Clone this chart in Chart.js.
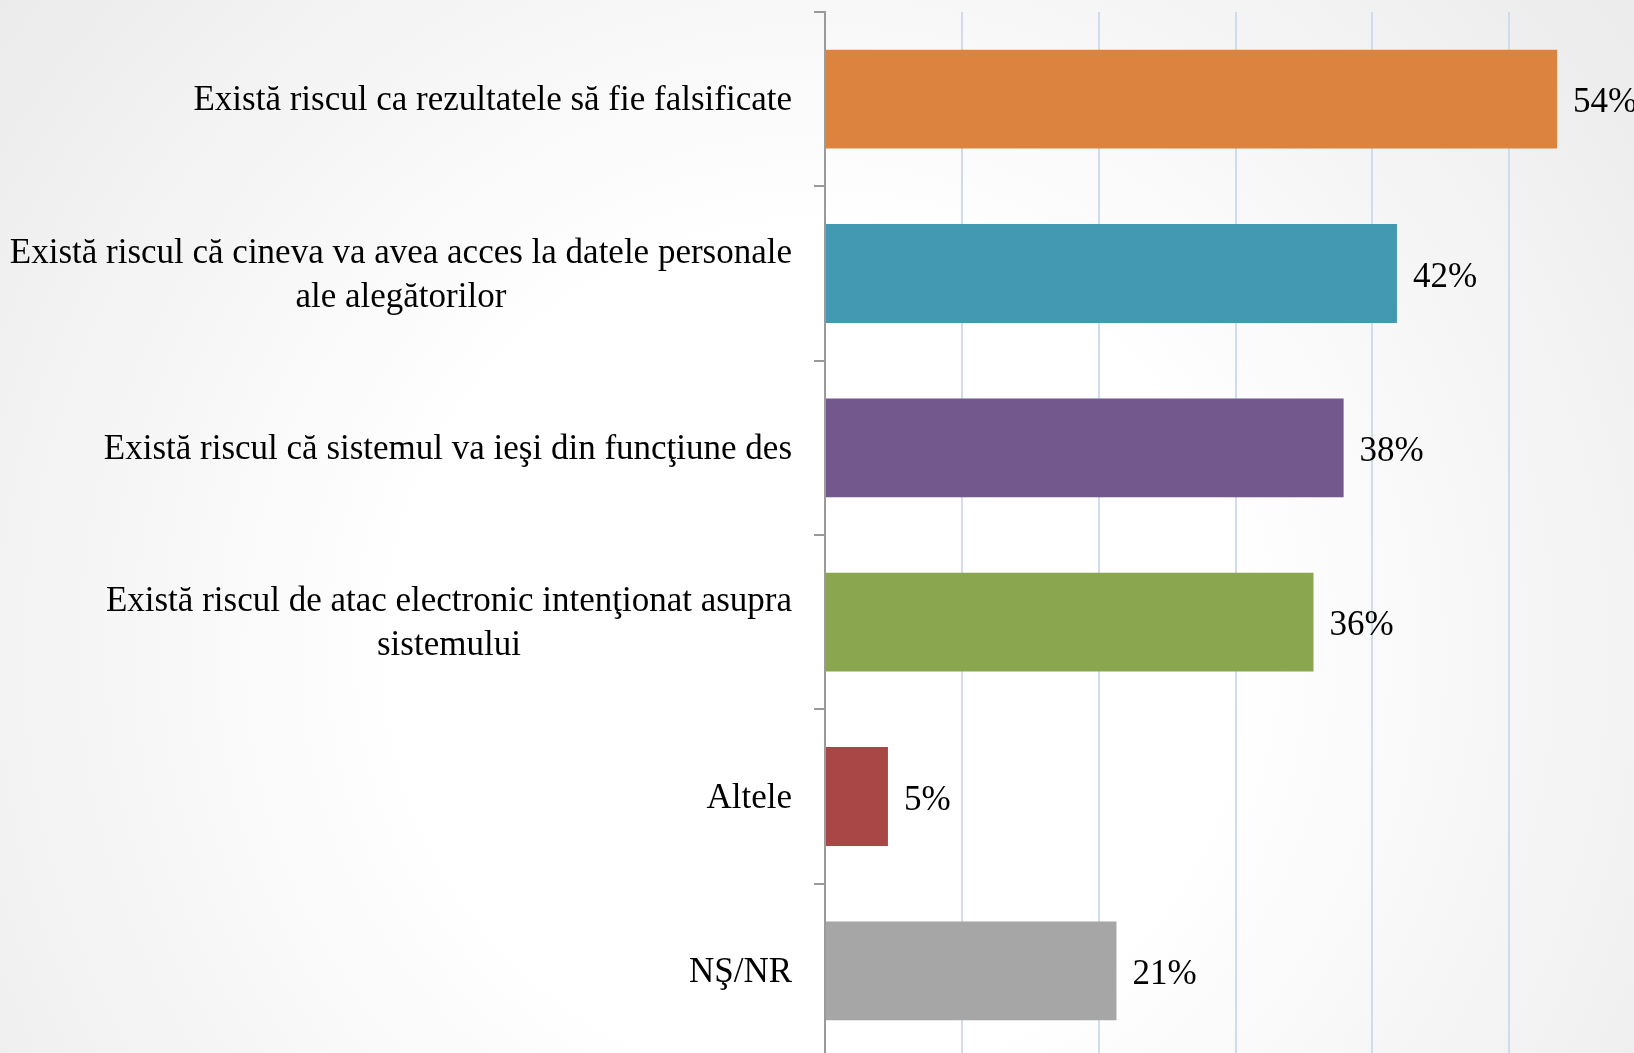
<!DOCTYPE html>
<html>
<head>
<meta charset="utf-8">
<script src="https://cdn.jsdelivr.net/npm/chart.js@4/dist/chart.umd.min.js"></script>
<style>
    html, body {
        margin: 0;
        padding: 0;
        width: 1634px;
        height: 1053px;
        overflow: hidden;
        background: radial-gradient(circle farthest-corner at 50% 62%, #ffffff 40%, #ebebeb 100%);
    }
    .grafic {
        position: absolute;
        left: 0;
        top: 0;
        width: 1646px;
        height: 1062px;
    }
</style>
</head>
<body>
<div class="grafic">
    <canvas id="graficRiscuri"></canvas>
</div>
<script>
// Categorii (etichetele axei verticale)
const categorii = [
    ['Există riscul ca rezultatele să fie falsificate'],
    ['Există riscul că cineva va avea acces la datele personale', 'ale alegătorilor'],
    ['Există riscul că sistemul va ieşi din funcţiune des'],
    ['Există riscul de atac electronic intenţionat asupra', 'sistemului'],
    ['Altele'],
    ['NŞ/NR']
];

// Valori (%)
const valori = [53.5, 41.8, 37.9, 35.7, 4.6, 21.3];

// Etichetele afisate langa bare
const procente = ['54%', '42%', '38%', '36%', '5%', '21%'];

const culori = ['#DB833F', '#4399B1', '#72588D', '#8AA74F', '#A94646', '#A6A6A6'];

const fontText = '35px "Liberation Serif", "DejaVu Serif", serif';

// Plugin pentru etichetele categoriilor (centrate pe bloc, aliniate la dreapta)
const eticheteCategorii = {
    id: 'eticheteCategorii',
    afterDraw(chart) {
        const ctx = chart.ctx;
        const y = chart.scales.y;
        const x = chart.scales.x;
        const margine = chart.chartArea.left - 33;
        ctx.save();
        ctx.font = fontText;
        ctx.fillStyle = '#000000';
        ctx.textBaseline = 'middle';
        ctx.textAlign = 'center';
        categorii.forEach((linii, i) => {
            const centru = y.getPixelForValue(i) + 2;
            const latime = Math.max(...linii.map(l => ctx.measureText(l).width));
            const inaltimeLinie = 44;
            const start = centru - (linii.length - 1) * inaltimeLinie / 2;
            linii.forEach((linie, j) => {
                ctx.fillText(linie, margine - latime / 2, start + j * inaltimeLinie);
            });
        });

        // Valorile de la capatul barelor
        ctx.textAlign = 'left';
        valori.forEach((v, i) => {
            ctx.fillText(procente[i], x.getPixelForValue(v) + 16, y.getPixelForValue(i) + 4);
        });
        ctx.restore();
    }
};

const ctx = document.getElementById('graficRiscuri').getContext('2d');
new Chart(ctx, {
    type: 'bar',
    data: {
        labels: categorii,
        datasets: [{
            data: valori,
            backgroundColor: culori,
            borderWidth: 0,
            categoryPercentage: 1,
            barPercentage: 0.567
        }]
    },
    options: {
        indexAxis: 'y',
        responsive: true,
        maintainAspectRatio: false,
        animation: false,
        layout: {
            padding: { top: 12, bottom: 4, left: 0, right: 0 }
        },
        plugins: {
            legend: { display: false },
            tooltip: { enabled: false }
        },
        scales: {
            x: {
                min: 0,
                max: 60,
                ticks: { display: false, stepSize: 10 },
                border: { display: false },
                grid: {
                    drawTicks: false,
                    lineWidth: 2,
                    color: (c) => c.tick && c.tick.value === 0 ? 'rgba(0,0,0,0)' : '#CFDCEE'
                }
            },
            y: {
                ticks: { display: false },
                afterFit: (scale) => { scale.width = 825; },
                border: { display: true, color: '#9A9A9A', width: 2 },
                grid: {
                    drawOnChartArea: false,
                    drawTicks: true,
                    tickLength: 11,
                    color: '#9A9A9A',
                    lineWidth: 2
                }
            }
        }
    },
    plugins: [eticheteCategorii]
});
</script>
</body>
</html>
